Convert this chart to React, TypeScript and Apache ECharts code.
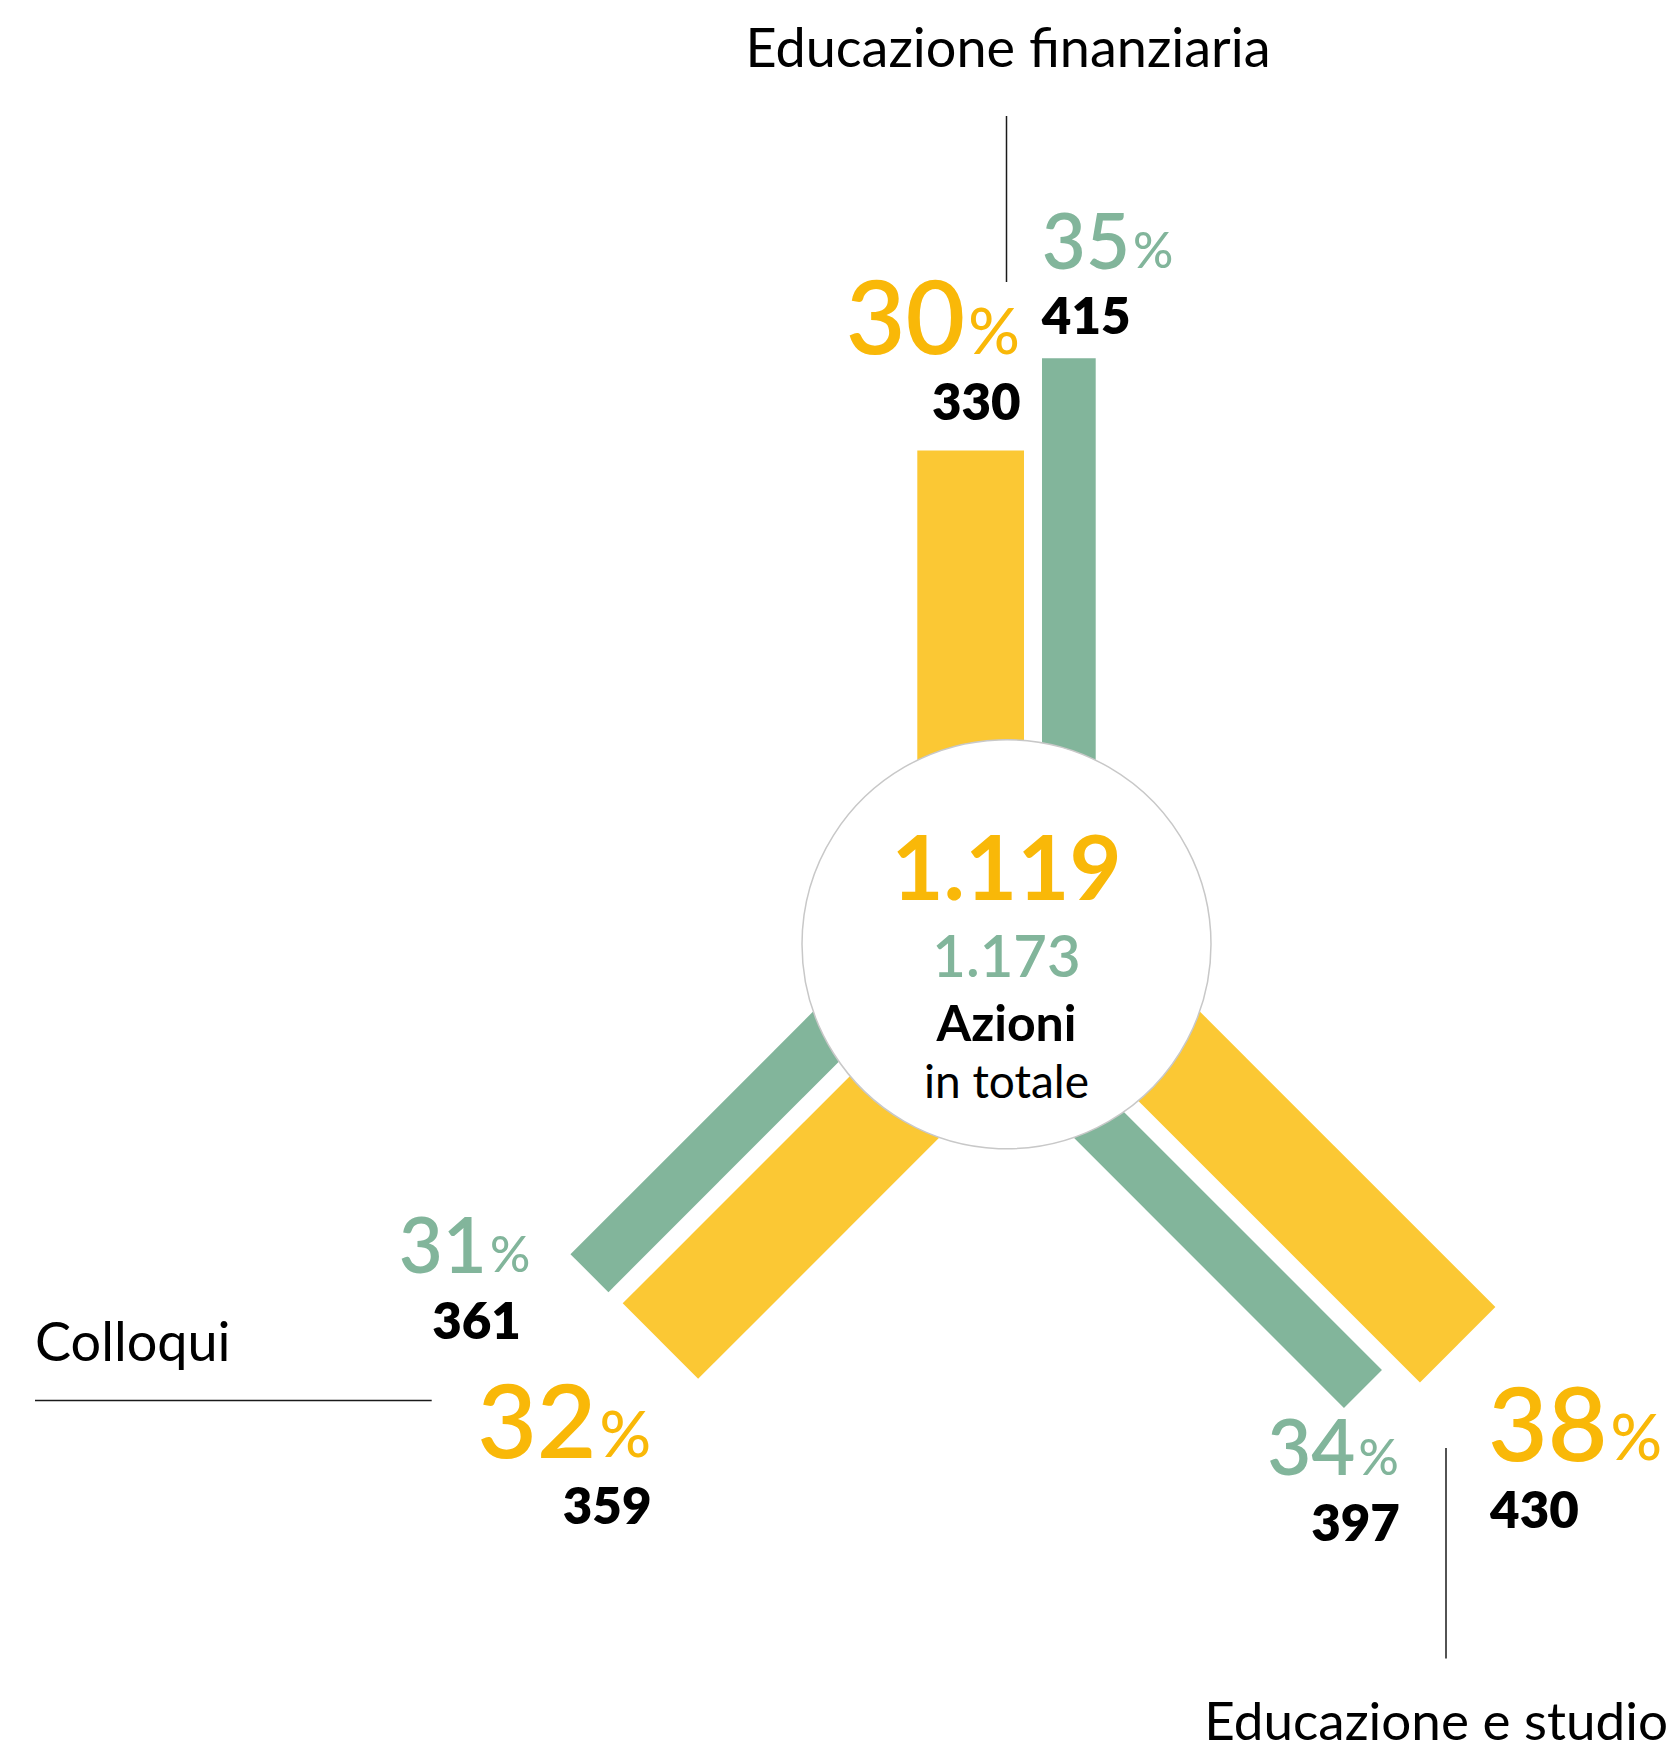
import React, { useEffect, useRef } from 'react';
import * as echarts from 'echarts';

// ---------------- data ----------------
const categories = ['Educazione finanziaria', 'Educazione e studio', 'Colloqui'];
const valuesCurrent = [330, 430, 359];
const percentCurrent = [30, 38, 32];
const valuesPrevious = [415, 397, 361];
const percentPrevious = [35, 34, 31];
const centerCaption = ['Azioni', 'in totale'];

// ---------------- layout / style ----------------
const W = 1672;
const H = 1745;
const CX = 1006.5;
const CY = 944.3;
const CIRCLE_R = 204.5;
const ARM_ANGLES = [0, 135, 225];
const R_MIN = -126;
const R_MAX = 500;
const POLAR_R = 678;

const YELLOW_BAR = '#FBC834';
const YELLOW_TEXT = '#F9B808';
const GREEN = '#82B59B';
const FONT = 'Lato, "Noto Sans", sans-serif';
const CENTRAL = 0.385; // distance from alphabetic baseline to central baseline, in em

type LabelPos = { align: 'left' | 'right'; pct: [number, number]; val: [number, number] };
type SeriesLook = {
  name: string;
  color: string;
  textColor: string;
  offset: number;
  width: number;
  pctSize: number;
  signSize: number;
  labels: LabelPos[];
};

const LOOK_CURRENT: SeriesLook = {
  name: 'current',
  color: YELLOW_BAR,
  textColor: YELLOW_TEXT,
  offset: -35.85,
  width: 106.7,
  pctSize: 103,
  signSize: 64,
  labels: [
    { align: 'right', pct: [49.5, -96.4], val: [50, -30.4] },
    { align: 'left', pct: [30.4, 115.4], val: [32.4, 183.4] },
    { align: 'right', pct: [-8.9, 116.4], val: [-8.9, 183.4] },
  ],
};
const LOOK_PREVIOUS: SeriesLook = {
  name: 'previous',
  color: GREEN,
  textColor: GREEN,
  offset: 62.35,
  width: 53.7,
  pctSize: 76,
  signSize: 50,
  labels: [
    { align: 'left', pct: [-27, -90], val: [-27, -24] },
    { align: 'right', pct: [36, 86], val: [37, 152] },
    { align: 'right', pct: [-59, -0.9], val: [-68.5, 65.8] },
  ],
};

const VALUE_SIZE = 51;
const PCT_WEIGHT = 600;

let measureCtx: CanvasRenderingContext2D | null = null;
function measure(text: string, weight: number | string, size: number): number {
  if (!measureCtx) measureCtx = document.createElement('canvas').getContext('2d');
  if (!measureCtx) return text.length * size * 0.55;
  measureCtx.font = `${weight} ${size}px ${FONT}`;
  return measureCtx.measureText(text).width;
}

function fmtThousands(n: number): string {
  return String(n).replace(/\B(?=(\d{3})+(?!\d))/g, '.');
}

function makeSeries(values: number[], percents: number[], look: SeriesLook) {
  return {
    type: 'custom',
    name: look.name,
    coordinateSystem: 'polar',
    polarIndex: 0,
    z: 2,
    data: values.map((v, i) => [v, ARM_ANGLES[i]]),
    renderItem: (params: any, api: any) => {
      const i = params.dataIndex;
      const v = api.value(0);
      const ang = api.value(1);
      const p0 = api.coord([0, ang]);
      const p1 = api.coord([v, ang]);
      const dx = p1[0] - p0[0];
      const dy = p1[1] - p0[1];
      const len = Math.hypot(dx, dy) || 1;
      const ux = dx / len;
      const uy = dy / len;
      const px = -uy;
      const py = ux;
      const a = look.offset - look.width / 2;
      const b = look.offset + look.width / 2;
      const pts = [
        [p0[0] + px * a, p0[1] + py * a],
        [p0[0] + px * b, p0[1] + py * b],
        [p1[0] + px * b, p1[1] + py * b],
        [p1[0] + px * a, p1[1] + py * a],
      ];
      const ex = p1[0] + px * look.offset;
      const ey = p1[1] + py * look.offset;
      const lab = look.labels[i];

      const numTxt = String(percents[i]);
      const numW = measure(numTxt, PCT_WEIGHT, look.pctSize);
      const signW = measure('%', PCT_WEIGHT, look.signSize);
      const gap = 3;
      const pctX = ex + lab.pct[0];
      const pctBase = ey + lab.pct[1];
      let numX: number;
      let signX: number;
      if (lab.align === 'right') {
        signX = pctX - signW;
        numX = signX - gap - numW;
      } else {
        numX = pctX;
        signX = pctX + numW + gap;
      }

      const children: any[] = [
        {
          type: 'polygon',
          shape: { points: pts },
          style: { fill: look.color },
        },
        {
          type: 'text',
          x: numX,
          y: pctBase - CENTRAL * look.pctSize,
          style: {
            text: numTxt,
            fill: look.textColor,
            fontSize: look.pctSize,
            fontWeight: PCT_WEIGHT,
            fontFamily: FONT,
            align: 'left',
            verticalAlign: 'middle',
          },
        },
        {
          type: 'text',
          x: signX,
          y: pctBase - CENTRAL * look.signSize,
          style: {
            text: '%',
            fill: look.textColor,
            fontSize: look.signSize,
            fontWeight: 500,
            fontFamily: FONT,
            align: 'left',
            verticalAlign: 'middle',
          },
        },
        {
          type: 'text',
          x: ex + lab.val[0],
          y: ey + lab.val[1] - CENTRAL * VALUE_SIZE,
          style: {
            text: String(v),
            fill: '#000000',
            fontSize: VALUE_SIZE,
            fontWeight: 800,
            fontFamily: FONT,
            align: lab.align,
            verticalAlign: 'middle',
          },
        },
      ];
      return { type: 'group', children };
    },
  };
}

function textEl(text: string, x: number, baseline: number, size: number, weight: number, fill: string, align: string) {
  return {
    type: 'text',
    x,
    y: baseline - CENTRAL * size,
    z: 20,
    style: {
      text,
      fill,
      fontSize: size,
      fontWeight: weight,
      fontFamily: FONT,
      align,
      verticalAlign: 'middle',
    },
  };
}

function lineEl(x1: number, y1: number, x2: number, y2: number) {
  return {
    type: 'line',
    z: 5,
    shape: { x1, y1, x2, y2 },
    style: { stroke: '#1a1a1a', lineWidth: 1.5 },
  };
}

export default function App() {
  const ref = useRef<HTMLDivElement>(null);

  useEffect(() => {
    if (!ref.current) return;
    const chart = echarts.init(ref.current, undefined, { renderer: 'svg' });
    const totalCurrent = valuesCurrent.reduce((s, v) => s + v, 0);
    const totalPrevious = valuesPrevious.reduce((s, v) => s + v, 0);

    const option: any = {
      animation: false,
      backgroundColor: '#ffffff',
      polar: { center: [CX, CY], radius: POLAR_R },
      radiusAxis: {
        type: 'value',
        min: R_MIN,
        max: R_MAX,
        axisLine: { show: false },
        axisTick: { show: false },
        axisLabel: { show: false },
        splitLine: { show: false },
      },
      angleAxis: {
        type: 'value',
        min: 0,
        max: 360,
        startAngle: 90,
        clockwise: true,
        axisLine: { show: false },
        axisTick: { show: false },
        axisLabel: { show: false },
        splitLine: { show: false },
      },
      series: [
        makeSeries(valuesCurrent, percentCurrent, LOOK_CURRENT),
        makeSeries(valuesPrevious, percentPrevious, LOOK_PREVIOUS),
      ],
      graphic: [
        {
          type: 'circle',
          z: 10,
          shape: { cx: CX, cy: CY, r: CIRCLE_R },
          style: { fill: '#ffffff', stroke: '#c8c8c8', lineWidth: 1.5 },
        },
        textEl(fmtThousands(totalCurrent), 1006.5, 900, 90, 700, YELLOW_TEXT, 'center'),
        textEl(fmtThousands(totalPrevious), 1006.5, 977.3, 58, 600, GREEN, 'center'),
        textEl(centerCaption[0], 1006.5, 1041.7, 50, 700, '#000000', 'center'),
        textEl(centerCaption[1], 1006.5, 1098.3, 46, 400, '#000000', 'center'),
        // category titles
        textEl(categories[0], 1008, 67.5, 54, 400, '#000000', 'center'),
        textEl(categories[2], 35, 1361, 54, 400, '#000000', 'left'),
        textEl(categories[1], 1668, 1740, 53, 400, '#000000', 'right'),
        // leader lines
        lineEl(1006.5, 116, 1006.5, 282),
        lineEl(35, 1400.5, 431.7, 1400.5),
        lineEl(1446, 1448, 1446, 1658.5),
      ],
    };
    chart.setOption(option);
    return () => chart.dispose();
  }, []);

  return (
    <div
      ref={ref}
      style={{ position: 'absolute', left: 0, top: 0, width: W, height: H }}
    />
  );
}
